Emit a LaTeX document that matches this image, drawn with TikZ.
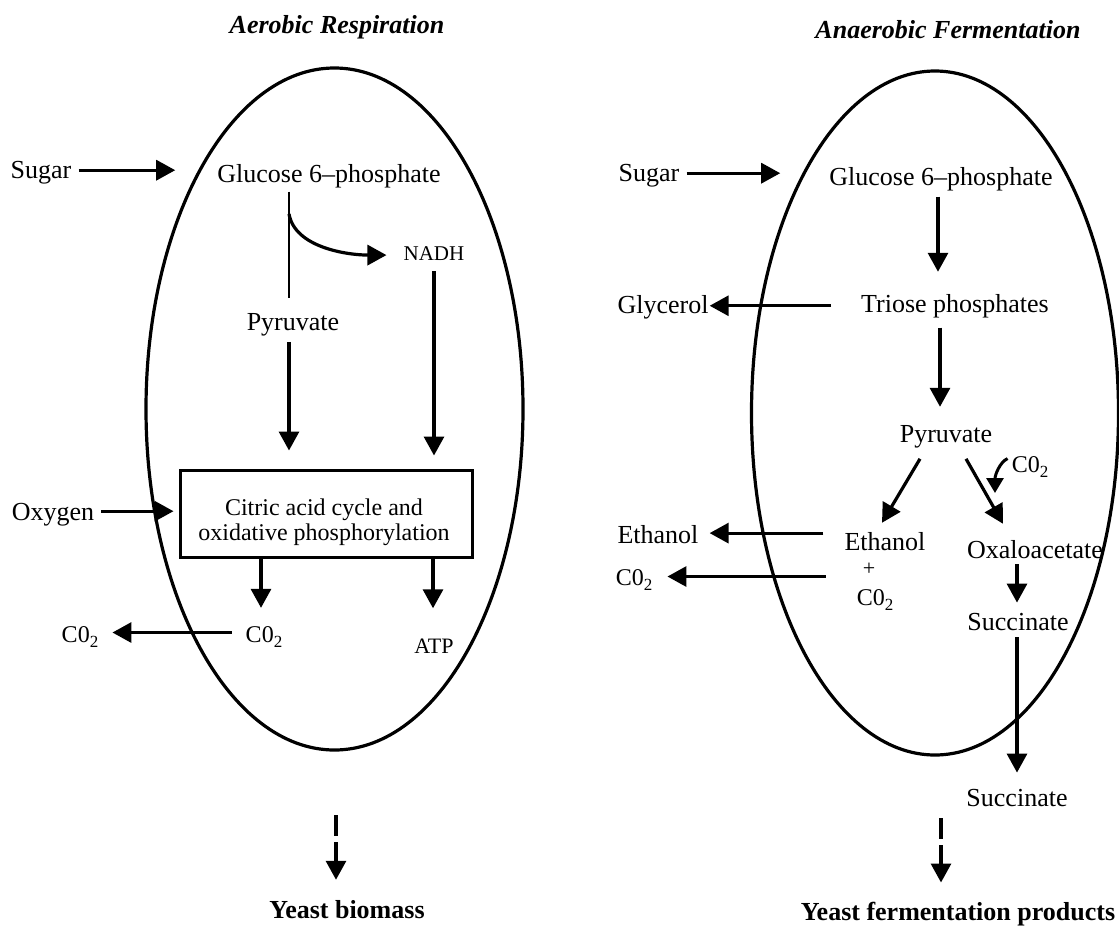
\documentclass[tikz,border=0pt]{standalone}
\usepackage{fontspec}
\setmainfont{Liberation Serif}
\usetikzlibrary{arrows.meta,shapes.geometric}
\newcommand\subtwo{\raisebox{-5pt}{\fontsize{17}{17}\selectfont 2}}
\begin{document}
\begin{tikzpicture}[x=1pt,y=-1pt,
  txt/.style={inner sep=0pt, anchor=base, font=\fontsize{26}{30}\selectfont},
  sm/.style={inner sep=0pt, anchor=base, font=\fontsize{21}{25}\selectfont},
  co/.style={inner sep=0pt, anchor=base, font=\fontsize{24}{28}\selectfont},
  ttl/.style={inner sep=0pt, anchor=base, font=\fontsize{26}{30}\selectfont\bfseries\itshape},
  ttlb/.style={inner sep=0pt, anchor=base, font=\fontsize{26}{30}\selectfont\bfseries},
  cell/.style={draw, ellipse, inner sep=0pt, line width=3.2pt},
  arr/.style={line width=3.2pt, -{Triangle[length=19pt,width=20pt]}},
  arrs/.style={line width=3pt, -{Triangle[length=15pt,width=17pt]}},
  ln/.style={line width=2.8pt},
  dsh/.style={dash pattern=on 21pt off 6pt on 300pt}]
\useasboundingbox (0,0) rectangle (1119,926);

% cells
\node[cell, minimum width=377pt, minimum height=682pt] (cellL) at (334.5,409) {};
\node[cell, minimum width=367pt, minimum height=684pt] (cellR) at (935,413) {};

% titles
\node[ttl] (t1) at (337,33) {Aerobic Respiration};
\node[ttl] (t2) at (948,38) {Anaerobic Fermentation};

% ---------- left ----------
\node[txt] (sugarL) at (41,178) {Sugar};
\node[txt] (glcL) at (329,182) {Glucose 6–phosphate};
\node[sm] (nadh) at (434,260) {NADH};
\node[txt] (pyrL) at (293,330) {Pyruvate};
\node[txt] (oxy) at (53,520) {Oxygen};
\node[draw, line width=3pt, minimum width=292pt, minimum height=87pt, inner sep=0pt] (box) at (326,513.5) {};
\node[inner sep=0pt, anchor=north, align=center, font=\fontsize{24}{25}\selectfont] (boxtxt) at (324,498.5) {Citric acid cycle and\\oxidative phosphorylation};
\node[co] (co2in) at (264,642) {C0\subtwo};
\node[inner sep=0pt, anchor=base, font=\fontsize{22}{26}\selectfont] (atp) at (434,653) {ATP};
\node[co] (co2out) at (80,642) {C0\subtwo};
\node[ttlb] (ybio) at (347,918) {Yeast biomass};
\coordinate (brL) at (289,214);
\coordinate (dL) at (336,815);

\draw[arr, shorten <=7pt, shorten >=42pt] ([yshift=2pt]sugarL.east) -- ([yshift=2pt]sugarL.east -| glcL.west);
\draw[arr, shorten <=7pt, shorten >=5pt] ([yshift=3pt]oxy.east) -- ([yshift=3pt]oxy.east -| box.west);
\draw[ln, shorten <=4pt, shorten >=15pt] ([xshift=-4pt]pyrL.north |- glcL.south) -- ([xshift=-4pt]pyrL.north);
\draw[arr, shorten >=17pt] (brL) .. controls +(6,34) and +(-55,0) .. ([yshift=-2pt]nadh.west);
\draw[arr, shorten <=11pt, shorten >=13pt] (nadh.south) -- (nadh.south |- box.north);
\draw[arr, shorten <=6pt, shorten >=18pt] ([xshift=-4pt]pyrL.south) -- ([xshift=-4pt]pyrL.south |- box.north);
\draw[arr, shorten >=18pt] ([xshift=-3pt]co2in.north |- box.south) -- ([xshift=-3pt]co2in.north);
\draw[arr, shorten >=30pt] ([xshift=-1pt]atp.north |- box.south) -- ([xshift=-1pt]atp.north);
\draw[arr, shorten <=14pt, shorten >=14pt] ([yshift=4pt]co2in.west) -- ([yshift=4pt]co2in.west -| co2out.east);
\draw[arr, dsh, shorten >=20pt] (dL) -- (dL |- ybio.north);

% ---------- right ----------
\node[txt] (sugarR) at (649,181) {Sugar};
\node[txt] (glcR) at (941,185) {Glucose 6–phosphate};
\node[txt] (tri) at (955,312) {Triose phosphates};
\node[txt] (gly) at (663,313) {Glycerol};
\node[txt] (pyrR) at (946,442) {Pyruvate};
\node[co] (co2s) at (1030,472) {C0\subtwo};
\node[txt] (ethO) at (658,543) {Ethanol};
\node[co] (co2O) at (634,585) {C0\subtwo};
\node[txt] (eth) at (885,550) {Ethanol};
\node[inner sep=0pt, anchor=base, font=\fontsize{22}{26}\selectfont] (plus) at (869,575) {+};
\node[co] (co2i) at (875,605) {C0\subtwo};
\node[txt] (oxa) at (1035,558) {Oxaloacetate};
\node[txt] (succ) at (1018,630) {Succinate};
\node[txt] (succB) at (1017,806) {Succinate};
\node[ttlb] (yferm) at (958,920) {Yeast fermentation products};
\coordinate (co2tip) at (995,493);
\coordinate (dR) at (941,818);

\draw[arr, shorten <=7pt, shorten >=49pt] ([yshift=2pt]sugarR.east) -- ([yshift=2pt]sugarR.east -| glcR.west);
\draw[arr, shorten <=6pt, shorten >=22pt] ([xshift=-3pt]glcR.south) -- ([xshift=-3pt]glcR.south |- tri.north);
\draw[arr, shorten <=10pt, shorten >=18pt] ([xshift=-1pt]glcR.south |- tri.south) -- ([xshift=-1pt]glcR.south |- pyrR.north);
\draw[arr, shorten <=30pt, shorten >=1pt] (tri.west) -- (tri.west -| gly.east);
\draw[arr] ([xshift=-26pt,yshift=-11pt]pyrR.south) -- ([xshift=-3pt,yshift=9pt]eth.north);
\draw[arr] ([xshift=20pt,yshift=-11pt]pyrR.south) -- ([xshift=-32pt,yshift=16pt]oxa.north);
\draw[arrs] ([xshift=-4pt,yshift=8pt]co2s.west) .. controls +(-8,4) and +(0,-18) .. (co2tip);
\draw[arr, shorten <=21pt, shorten >=11pt] ([yshift=8pt]eth.west) -- ([yshift=8pt]eth.west -| ethO.east);
\draw[arr, shorten <=31pt, shorten >=15pt] ([yshift=23pt]co2i.west) -- ([yshift=23pt]co2i.west -| co2O.east);
\draw[arr, shorten <=6pt, shorten >=10pt] ([xshift=-1pt]succ.north |- oxa.south) -- ([xshift=-1pt]succ.north);
\draw[arr, shorten <=7pt, shorten >=16pt] ([xshift=-1pt]succ.south) -- ([xshift=-1pt]succ.south |- succB.north);
\draw[arr, dsh, shorten >=19pt] (dR) -- (dR |- yferm.north);
\end{tikzpicture}
\end{document}
